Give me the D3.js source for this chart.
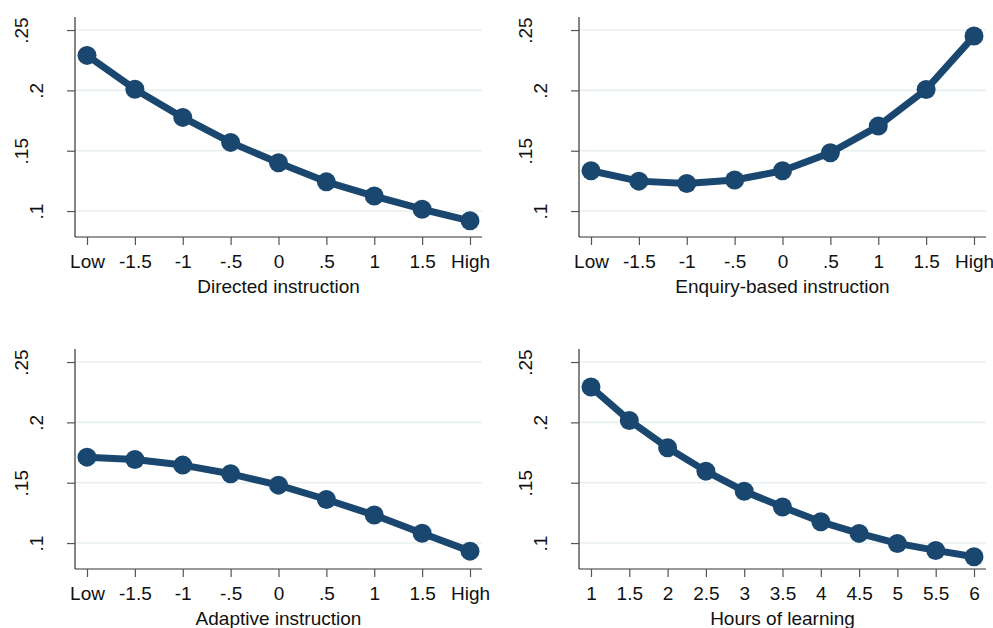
<!DOCTYPE html>
<html>
<head>
<meta charset="utf-8">
<script src="https://cdn.jsdelivr.net/npm/d3@7"></script>
<style>
  html, body { margin: 0; padding: 0; background: #fff; }
  svg { display: block; font-family: Arial, "Liberation Sans", sans-serif; }
</style>
</head>
<body>
<div id="chart"></div>
<script>
const instrLabels = ["Low", "-1.5", "-1", "-.5", "0", ".5", "1", "1.5", "High"];
const hoursLabels = ["1", "1.5", "2", "2.5", "3", "3.5", "4", "4.5", "5", "5.5", "6"];

const directedVals = [0.229, 0.201, 0.1776, 0.1569, 0.140, 0.1242, 0.1124, 0.1015, 0.0919];
const enquiryVals  = [0.1334, 0.1248, 0.1229, 0.1257, 0.1334, 0.1483, 0.1704, 0.2008, 0.2450];
const adaptiveVals = [0.1712, 0.1693, 0.1646, 0.1574, 0.1480, 0.1361, 0.1232, 0.1082, 0.0933];
const hoursVals    = [0.2293, 0.2016, 0.1790, 0.1596, 0.1430, 0.1298, 0.1176, 0.1080, 0.0997, 0.0939, 0.0886];

const yTicks      = [0.1, 0.15, 0.2, 0.25];
const yTickLabels = [".1", ".15", ".2", ".25"];

const panels = [
  { title: "Directed instruction",     labels: instrLabels, values: directedVals, x: 75,  y: 17 },
  { title: "Enquiry-based instruction", labels: instrLabels, values: enquiryVals,  x: 579, y: 17 },
  { title: "Adaptive instruction",     labels: instrLabels, values: adaptiveVals, x: 75,  y: 349 },
  { title: "Hours of learning",        labels: hoursLabels, values: hoursVals,    x: 579, y: 349 }
];

const W = 993, H = 628;
const plotW = 407, plotH = 220;
const navy = "#1a476f";
const fontSize = 19;

const svg = d3.select("#chart").append("svg")
  .attr("width", W)
  .attr("height", H);

// y range in the picture: .25 sits 13px below the top, .1 sits 26px above the axis
const yScale = d3.scaleLinear()
  .domain([0.0785, 0.2608])
  .range([plotH, 0]);

panels.forEach(p => {
  const g = svg.append("g").attr("transform", `translate(${p.x},${p.y})`);

  const xScale = d3.scalePoint()
    .domain(p.labels)
    .range([12, plotW - 12]);

  // gridlines
  g.append("g").selectAll("line")
    .data(yTicks)
    .join("line")
      .attr("x1", 0)
      .attr("x2", plotW)
      .attr("y1", d => yScale(d))
      .attr("y2", d => yScale(d))
      .attr("stroke", "#e8eff1")
      .attr("stroke-width", 1.6);

  // y axis
  const yAxis = g.append("g")
    .call(d3.axisLeft(yScale).tickValues(yTicks).tickSize(8).tickFormat((d, i) => yTickLabels[i]));
  yAxis.select(".domain").attr("d", `M0,0V${plotH}`).attr("stroke", "#333").attr("stroke-width", 1.2);
  yAxis.selectAll(".tick line").attr("stroke", "#555").attr("stroke-width", 1.2);
  yAxis.selectAll(".tick text")
    .attr("x", null).attr("dy", null)
    .attr("text-anchor", "middle")
    .attr("transform", (d, i) => `translate(${-(32 + 15 * (yTickLabels[i].length - 2))},0) rotate(-90)`)
    .style("font-size", fontSize + "px")
    .attr("fill", "#111");

  // x axis
  const xAxis = g.append("g")
    .attr("transform", `translate(0,${plotH})`)
    .call(d3.axisBottom(xScale).tickSize(8).tickPadding(9.5));
  xAxis.select(".domain").attr("d", `M0,0H${plotW}`).attr("stroke", "#333").attr("stroke-width", 1.2);
  xAxis.selectAll(".tick line").attr("stroke", "#555").attr("stroke-width", 1.2);
  xAxis.selectAll(".tick text")
    .style("font-size", fontSize + "px")
    .attr("fill", "#111");

  g.append("text")
    .attr("x", plotW / 2)
    .attr("y", plotH + 56)
    .attr("text-anchor", "middle")
    .style("font-size", fontSize + "px")
    .attr("fill", "#111")
    .text(p.title);

  const pts = p.labels.map((l, i) => ({ l, v: p.values[i] }));

  g.append("path")
    .datum(pts)
    .attr("fill", "none")
    .attr("stroke", navy)
    .attr("stroke-width", 7)
    .attr("stroke-linejoin", "round")
    .attr("d", d3.line().x(d => xScale(d.l)).y(d => yScale(d.v)));

  g.append("g").selectAll("circle")
    .data(pts)
    .join("circle")
      .attr("cx", d => xScale(d.l))
      .attr("cy", d => yScale(d.v))
      .attr("r", 9.5)
      .attr("fill", navy);
});
</script>
</body>
</html>
